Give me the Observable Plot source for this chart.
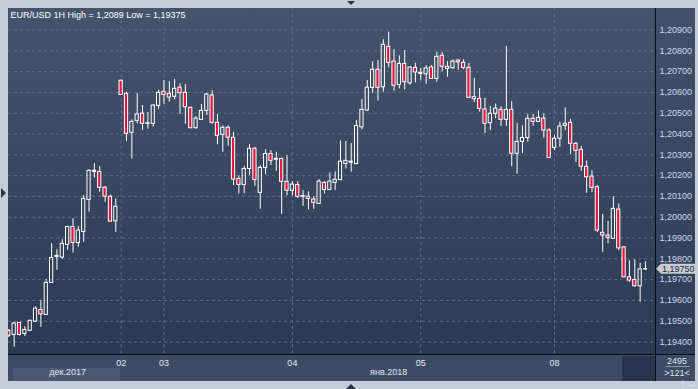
<!DOCTYPE html>
<html><head><meta charset="utf-8">
<script src="https://cdn.jsdelivr.net/npm/d3@7"></script>
<script src="https://cdn.jsdelivr.net/npm/@observablehq/plot@0.6"></script>
<style>
body{margin:0;background:#c4cdd8}
#wrap{position:relative;width:698px;height:389px;overflow:hidden;background:#c4cdd8;font-family:"Liberation Sans",Arial,sans-serif;font-size:9px}
.abs{position:absolute}
#wrap svg{position:absolute;left:0;top:0;background:transparent!important;overflow:visible}
.rt{position:absolute;left:660px;width:34px;text-align:center;color:#dde5f2;font-size:9px}
</style></head><body>
<div id="wrap">
 <div class="abs" style="left:8px;top:8px;width:647px;height:347px;background:linear-gradient(#46536d,#2c3953)"></div>
 <div class="abs" style="left:655px;top:8px;width:40px;height:347px;background:linear-gradient(#43506a,#2f3c56)"></div>
 <div class="abs" style="left:8px;top:355px;width:687px;height:26px;background:#3e4b65"></div>
 <div class="abs" style="left:622px;top:356px;width:33px;height:25px;background:#29354e"></div>
 <div class="abs" style="left:13px;top:368px;width:107px;height:13px;background:#4b5873"></div>
 <div class="abs" style="left:655px;top:8px;width:1px;height:373px;background:#080c14"></div>
 <div class="abs" style="left:8px;top:354px;width:687px;height:1px;background:#080c14"></div>
 <div class="abs" style="left:666px;top:366px;width:24px;height:1px;background:#8d9ab0"></div>
 <div class="rt" style="top:356px">2495</div>
 <div class="rt" style="top:368px">&gt;121&lt;</div>
 <div class="abs" style="left:1px;top:188px;width:0;height:0;border-left:5px solid #2b3442;border-top:5px solid transparent;border-bottom:5px solid transparent"></div>
 <div class="abs" style="left:347px;top:1px;width:0;height:0;border-top:4px solid #2b3442;border-left:4px solid transparent;border-right:4px solid transparent"></div>
 <div class="abs" style="left:346px;top:384px;width:0;height:0;border-bottom:5px solid #2b3442;border-left:5px solid transparent;border-right:5px solid transparent"></div>
</div>
<script>
const title = "EUR/USD 1H High = 1,2089 Low = 1,19375";
const open = [1.19454,1.19434,1.19492,1.19439,1.19454,1.19498,1.19554,1.19530,1.19684,1.19809,
1.19806,1.19867,1.19953,1.19876,1.19929,1.20083,1.20218,1.20218,1.20142,1.20098,
1.19980,1.20656,1.20593,1.20406,1.20463,1.20498,1.20449,1.20449,1.20535,1.20603,
1.20593,1.20579,1.20623,1.20598,1.20526,1.20428,1.20468,1.20511,1.20585,1.20454,
1.20396,1.20430,1.20382,1.20184,1.20155,1.20232,1.20329,1.20117,1.20237,1.20304,
1.20276,1.20280,1.20170,1.20127,1.20155,1.20102,1.20099,1.20085,1.20064,1.20165,
1.20131,1.20165,1.20178,1.20256,1.20262,1.20256,1.20432,1.20513,1.20622,1.20709,
1.20625,1.20819,1.20748,1.20636,1.20737,1.20643,1.20718,1.20689,1.20687,1.20720,
1.20665,1.20776,1.20723,1.20716,1.20753,1.20742,1.20718,1.20577,1.20569,1.20518,
1.20452,1.20497,1.20516,1.20468,1.20516,1.20305,1.20362,1.20381,1.20473,1.20458,
1.20474,1.20417,1.20333,1.20377,1.20439,1.20454,1.20353,1.20324,1.20242,1.20195,
1.20144,1.19925,1.19912,1.19896,1.20037,1.19855,1.19711,1.19698,1.19668,1.19749];
const high = [1.19460,1.19495,1.19495,1.19474,1.19505,1.19569,1.19600,1.19701,1.19873,1.19844,
1.19892,1.19955,1.19993,1.19955,1.20104,1.20229,1.20258,1.20243,1.20147,1.20107,
1.20088,1.20660,1.20601,1.20468,1.20595,1.20537,1.20503,1.20540,1.20610,1.20657,
1.20652,1.20662,1.20641,1.20638,1.20529,1.20484,1.20542,1.20595,1.20608,1.20494,
1.20439,1.20439,1.20408,1.20199,1.20243,1.20349,1.20336,1.20248,1.20325,1.20320,
1.20312,1.20285,1.20296,1.20171,1.20171,1.20128,1.20122,1.20099,1.20181,1.20171,
1.20213,1.20218,1.20367,1.20364,1.20354,1.20465,1.20566,1.20657,1.20748,1.20753,
1.20854,1.20890,1.20805,1.20776,1.20801,1.20723,1.20740,1.20715,1.20728,1.20729,
1.20792,1.20792,1.20748,1.20757,1.20757,1.20757,1.20740,1.20668,1.20619,1.20572,
1.20532,1.20545,1.20532,1.20821,1.20555,1.20452,1.20439,1.20494,1.20494,1.20511,
1.20497,1.20425,1.20393,1.20457,1.20526,1.20471,1.20359,1.20340,1.20271,1.20224,
1.20152,1.20013,1.19980,1.20099,1.20064,1.19859,1.19791,1.19795,1.19778,1.19786];
const low = [1.19421,1.19375,1.19428,1.19426,1.19450,1.19494,1.19471,1.19530,1.19682,1.19745,
1.19798,1.19841,1.19828,1.19855,1.19879,1.20024,1.20189,1.20120,1.20072,1.19976,
1.19927,1.20585,1.20364,1.20279,1.20449,1.20417,1.20423,1.20432,1.20519,1.20542,
1.20553,1.20564,1.20495,1.20447,1.20425,1.20423,1.20465,1.20489,1.20447,1.20348,
1.20312,1.20341,1.20152,1.20112,1.20112,1.20200,1.20149,1.20038,1.20204,1.20248,
1.20221,1.20014,1.20103,1.20103,1.20091,1.20052,1.20035,1.20038,1.20062,1.20112,
1.20128,1.20128,1.20176,1.20232,1.20216,1.20252,1.20420,1.20508,1.20596,1.20558,
1.20601,1.20718,1.20606,1.20617,1.20612,1.20636,1.20646,1.20656,1.20639,1.20663,
1.20649,1.20699,1.20673,1.20711,1.20707,1.20709,1.20572,1.20551,1.20505,1.20402,
1.20417,1.20474,1.20436,1.20436,1.20243,1.20206,1.20305,1.20360,1.20437,1.20455,
1.20380,1.20282,1.20320,1.20336,1.20417,1.20301,1.20264,1.20221,1.20115,1.20118,
1.19926,1.19831,1.19872,1.19895,1.19839,1.19709,1.19685,1.19663,1.19591,1.19743];
const close = [1.19430,1.19489,1.19434,1.19458,1.19502,1.19561,1.19533,1.19684,1.19804,1.19814,
1.19872,1.19953,1.19876,1.19936,1.20088,1.20223,1.20223,1.20141,1.20099,1.19979,
1.20050,1.20588,1.20401,1.20458,1.20494,1.20449,1.20452,1.20537,1.20598,1.20588,
1.20575,1.20617,1.20596,1.20529,1.20428,1.20474,1.20511,1.20590,1.20454,1.20391,
1.20430,1.20382,1.20181,1.20155,1.20232,1.20329,1.20179,1.20237,1.20304,1.20271,
1.20281,1.20170,1.20127,1.20157,1.20098,1.20098,1.20088,1.20069,1.20171,1.20131,
1.20171,1.20180,1.20267,1.20271,1.20267,1.20439,1.20516,1.20623,1.20709,1.20622,
1.20829,1.20742,1.20632,1.20737,1.20649,1.20720,1.20696,1.20694,1.20715,1.20665,
1.20771,1.20723,1.20713,1.20748,1.20744,1.20718,1.20574,1.20567,1.20521,1.20449,
1.20497,1.20522,1.20468,1.20516,1.20305,1.20362,1.20381,1.20473,1.20458,1.20478,
1.20417,1.20285,1.20377,1.20436,1.20449,1.20353,1.20319,1.20243,1.20192,1.20141,
1.19936,1.19912,1.19901,1.20040,1.19850,1.19711,1.19695,1.19668,1.19749,1.19750];
const dayTicks = [21, 29, 53, 77, 102];
const dayLabels = ["02", "03", "04", "05", "08"];
const monthLabels = ["дек.2017", "янв.2018"];
const monthPos = [11, 71];
const priceTicks = [1.194,1.195,1.196,1.197,1.198,1.199,1.200,1.201,1.202,1.203,1.204,1.205,1.206,1.207,1.208,1.209];

const candles = open.map((o, i) => ({i, open: o, high: high[i], low: low[i], close: close[i]}));
const fmt = d => d.toFixed(5).replace(".", ",");
const gridColor = "#5e6c87";

const chart = Plot.plot({
  width: 698, height: 389,
  marginLeft: 8, marginTop: 8, marginRight: 43, marginBottom: 34,
  style: "background:transparent;--plot-background:transparent;font-family:'Liberation Sans',Arial,sans-serif;font-size:9px;color:#cdd8ec;overflow:visible",
  x: {type: "linear", domain: [-0.056, 120.87]},
  y: {domain: [1.193351, 1.210034]},
  marks: [
    Plot.gridY(priceTicks, {stroke: gridColor, strokeOpacity: 1, strokeDasharray: "3,3"}),
    Plot.gridX(dayTicks, {stroke: gridColor, strokeOpacity: 1, strokeDasharray: "3,3"}),
    Plot.ruleX(candles, {x: "i", y1: "high", y2: d => Math.max(d.open, d.close), stroke: "#ffffff", clip: true}),
    Plot.ruleX(candles, {x: "i", y1: d => Math.min(d.open, d.close), y2: "low", stroke: "#ffffff", clip: true}),
    Plot.rect(candles, {x1: d => d.i - 0.3, x2: d => d.i + 0.3, y1: "open", y2: "close",
      fill: d => d.close >= d.open ? "none" : "#e5173f", stroke: "#ffffff", strokeWidth: 1, clip: true}),
    Plot.axisY(priceTicks, {anchor: "right", tickSize: 0, tickPadding: 4, tickFormat: fmt, color: "#cdd8ec"}),
    Plot.axisX(dayTicks, {anchor: "bottom", tickSize: 0, tickPadding: 4, tickFormat: d => dayLabels[dayTicks.indexOf(d)], color: "#e0e8f4"}),
    Plot.text([title], {frameAnchor: "top-left", dx: 2, dy: 3.5, lineAnchor: "top", text: d => d, fill: "#ffffff"}),
    Plot.text(monthLabels, {x: (d, k) => monthPos[k], frameAnchor: "bottom", dy: 19, text: d => d, fill: "#e0e8f4"})
  ]
});
document.getElementById("wrap").appendChild(chart);

// current price marker on the right axis
const last = close[close.length - 1];
const yc = chart.scale("y").apply(last);
const g = d3.select(chart).append("g");
g.append("path")
  .attr("d", `M656,${yc} L661,${yc - 5} L698,${yc - 5} L698,${yc + 5} L661,${yc + 5} Z`)
  .attr("fill", "#c8ccd3");
g.append("text").attr("x", 662).attr("y", yc).attr("dy", "0.35em")
  .attr("text-anchor", "start")
  .attr("fill", "#1d2a44").text(fmt(last));
</script>
</body></html>
